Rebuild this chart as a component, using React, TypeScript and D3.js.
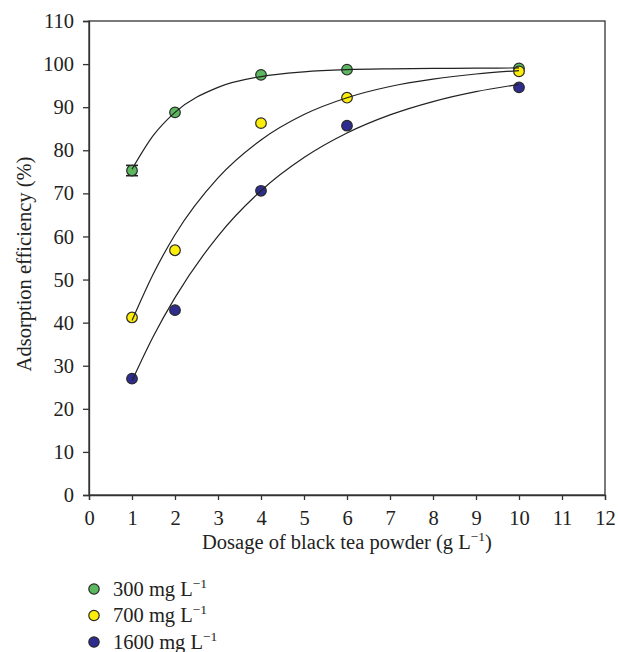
import React, { useRef, useEffect } from 'react';
import * as d3 from 'd3';

// measured points
const dosage = [1, 2, 4, 6, 10];
const eff300 = [75.3, 88.8, 97.5, 98.7, 99.0];
const eff700 = [41.2, 56.8, 86.3, 92.2, 98.3];
const eff1600 = [27.0, 42.9, 70.6, 85.7, 94.6];
const err300 = [1.2, 0, 0, 0, 0];

// fitted curves
const fitX = [1, 1.5, 2, 3, 4, 5, 6, 7, 8, 9, 10];
const fit300 = [75.6, 83.5, 88.8, 94.6, 97.1, 98.2, 98.7, 98.9, 99.0, 99.05, 99.1];
const fit700 = [40.5, 51.4, 60.4, 73.6, 82.4, 88.3, 92.2, 94.8, 96.5, 97.7, 98.5];
const fit1600 = [26.5, 36.9, 45.8, 60.1, 70.6, 78.3, 84.0, 88.2, 91.3, 93.6, 95.3];

const seriesNames = ['300', '700', '1600'];
const colors = ['#5cb85f', '#fcee0a', '#2e2c8f'];
const xTicks = d3.range(0, 13);
const yTicks = d3.range(0, 111, 10);

const FONT = '"Liberation Serif", "DejaVu Serif", serif';
const FS = 20.5;

const App = () => {
  const svgRef = useRef<SVGSVGElement>(null);

  useEffect(() => {
    const svg = d3.select(svgRef.current);
    svg.selectAll('*').remove();

    const left = 89, right = 605, top = 21, bottom = 495;
    const x = d3.scaleLinear().domain([0, 12]).range([left, right]);
    const y = d3.scaleLinear().domain([0, 110]).range([bottom, top]);
    const axisColor = '#333';

    // frame
    svg.append('rect')
      .attr('x', left).attr('y', top)
      .attr('width', right - left).attr('height', bottom - top)
      .attr('fill', 'none').attr('stroke', axisColor).attr('stroke-width', 1.3);

    // x axis
    const gx = svg.append('g')
      .attr('transform', `translate(0,${bottom})`)
      .call(d3.axisBottom(x).tickValues(xTicks).tickSize(5).tickPadding(10).tickFormat(d3.format('d')));
    gx.select('.domain').attr('stroke', axisColor).attr('stroke-width', 1.3);
    gx.selectAll('line').attr('stroke', axisColor).attr('stroke-width', 1.3);
    gx.selectAll('text').attr('font-family', FONT).attr('font-size', FS).attr('fill', '#222');

    // y axis
    const gy = svg.append('g')
      .attr('transform', `translate(${left},0)`)
      .call(d3.axisLeft(y).tickValues(yTicks).tickSize(6).tickPadding(9).tickFormat(d3.format('d')));
    gy.select('.domain').attr('stroke', axisColor).attr('stroke-width', 1.3);
    gy.selectAll('line').attr('stroke', axisColor).attr('stroke-width', 1.3);
    gy.selectAll('text').attr('font-family', FONT).attr('font-size', FS).attr('fill', '#222');

    // axis titles
    const xt = svg.append('text')
      .attr('x', (left + right) / 2 + 0).attr('y', 549)
      .attr('text-anchor', 'middle')
      .attr('font-family', FONT).attr('font-size', FS).attr('fill', '#222');
    xt.append('tspan').text('Dosage of black tea powder (g L');
    xt.append('tspan').attr('dy', -8).attr('font-size', 13.5).text('−1');
    xt.append('tspan').attr('dy', 8).text(')');

    svg.append('text')
      .attr('transform', `translate(31,${(top + bottom) / 2 + 6}) rotate(-90)`)
      .attr('text-anchor', 'middle')
      .attr('font-family', FONT).attr('font-size', FS).attr('fill', '#222')
      .text('Adsorption efficiency (%)');

    const pointSets = [eff300, eff700, eff1600];
    const fitSets = [fit300, fit700, fit1600];

    // error bars
    const eb = svg.append('g');
    dosage.forEach((d, i) => {
      const e = err300[i];
      if (!e) return;
      const cx = x(d);
      eb.append('line').attr('x1', cx).attr('x2', cx)
        .attr('y1', y(eff300[i] - e)).attr('y2', y(eff300[i] + e))
        .attr('stroke', '#222').attr('stroke-width', 1.3);
      [eff300[i] - e, eff300[i] + e].forEach(v => {
        eb.append('line').attr('x1', cx - 6).attr('x2', cx + 6)
          .attr('y1', y(v)).attr('y2', y(v))
          .attr('stroke', '#222').attr('stroke-width', 1.6);
      });
    });

    // points
    pointSets.forEach((vals, s) => {
      svg.append('g').selectAll('circle')
        .data(dosage.map((d, i) => [d, vals[i]]))
        .enter().append('circle')
        .attr('cx', d => x(d[0]))
        .attr('cy', d => y(d[1]))
        .attr('r', 5.3)
        .attr('fill', colors[s])
        .attr('stroke', '#2a2a2a')
        .attr('stroke-width', 1.2);
    });

    // fitted curves
    const line = d3.line<number[]>()
      .x(d => x(d[0]))
      .y(d => y(d[1]))
      .curve(d3.curveMonotoneX);
    fitSets.forEach(vals => {
      svg.append('path')
        .attr('d', line(fitX.map((d, i) => [d, vals[i]])))
        .attr('fill', 'none')
        .attr('stroke', '#222')
        .attr('stroke-width', 1.2);
    });

    // legend
    const legend = svg.append('g');
    seriesNames.forEach((name, i) => {
      const cy = 589 + i * 26.5;
      legend.append('circle')
        .attr('cx', 94).attr('cy', cy).attr('r', 5.2)
        .attr('fill', colors[i]).attr('stroke', '#2a2a2a').attr('stroke-width', 1.2);
      const t = legend.append('text')
        .attr('x', 113).attr('y', cy + 6.5)
        .attr('font-family', FONT).attr('font-size', FS).attr('fill', '#222');
      t.append('tspan').text(`${name} mg L`);
      t.append('tspan').attr('dy', -8).attr('font-size', 13.5).text('−1');
    });
  }, []);

  return (
    <svg
      ref={svgRef}
      width={618}
      height={652}
      style={{ position: 'absolute', left: 0, top: 0, background: '#fff' }}
    />
  );
};

export default App;
